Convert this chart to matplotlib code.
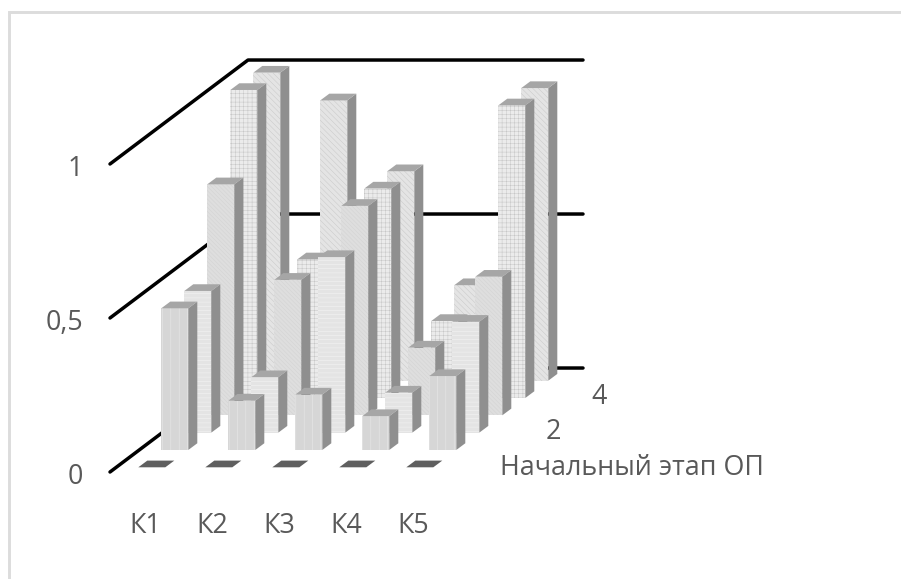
"""
3D-style column chart drawn on a flat axes with an oblique projection.
"""

import matplotlib
matplotlib.use("Agg")
import matplotlib.pyplot as plt
from matplotlib.patches import Polygon

categories = ["К1", "К2", "К3", "К4", "К5"]
series_labels = ["Начальный этап ОП", "", "2", "", "4", ""]
value_ticks = ["0", "0,5", "1"]
value_tick_pos = [0, 0.5, 1]

# one list per depth row, front to back
row0 = [0, 0, 0, 0, 0]
row1 = [0.46, 0.16, 0.18, 0.11, 0.24]
row2 = [0.46, 0.18, 0.57, 0.13, 0.36]
row3 = [0.75, 0.44, 0.68, 0.22, 0.45]
row4 = [1.00, 0.45, 0.68, 0.25, 0.95]
row5 = [1.00, 0.91, 0.68, 0.31, 0.95]
rows = [row0, row1, row2, row3, row4, row5]

hatches = [None, "||", "----", "\\\\\\\\\\\\\\\\", "++++", "\\\\\\\\\\\\"]
hatch_colors = ["#5f5f5f", "#ebebeb", "#f6f6f6", "#d2d2d2", "#c6c6c6", "#c8c8c8"]
face_colors = ["#6a6a6a", "#d6d6d6", "#e4e4e4", "#dedede", "#ebebeb", "#e4e4e4"]

# projection, in pixels of the figure
X0, Y0 = 110, 472       # front left floor corner
CAT_DX = 67             # one category along the floor
ROW_DX, ROW_DY = 23, -17.33  # one row into the depth
V_SCALE = 308           # height of value 1
BAR_W = 27
BAR_DX, BAR_DY = 9, -6.7
BAR_PAD_X, BAR_PAD_Y = 28.3, -4.7  # bar base inside its floor cell
N_ROWS = len(rows)
N_CATS = len(categories)
TEXT_COLOR = "#595959"
FONT_SIZE = 19.4


def project(cat, row):
    return X0 + CAT_DX * cat + ROW_DX * row, Y0 + ROW_DY * row


def draw_bar(ax, i, j, value):
    bx, by = project(i, j)
    bx += BAR_PAD_X
    by += BAR_PAD_Y
    top = by - V_SCALE * value
    z = 10 + (N_ROWS - j) * 10
    front = [(bx, by), (bx + BAR_W, by), (bx + BAR_W, top), (bx, top)]
    side = [(bx + BAR_W, by), (bx + BAR_W + BAR_DX, by + BAR_DY),
            (bx + BAR_W + BAR_DX, top + BAR_DY), (bx + BAR_W, top)]
    cap = [(bx, top), (bx + BAR_W, top),
           (bx + BAR_W + BAR_DX, top + BAR_DY), (bx + BAR_DX, top + BAR_DY)]
    if value > 0:
        ax.add_patch(Polygon(front, closed=True, facecolor=face_colors[j], zorder=z,
                             edgecolor=hatch_colors[j], hatch=hatches[j], linewidth=0))
        ax.add_patch(Polygon(side, closed=True, facecolor="#8f8f8f", edgecolor="none", zorder=z))
        ax.add_patch(Polygon(cap, closed=True, facecolor="#a6a6a6", edgecolor="none", zorder=z))
    else:
        ax.add_patch(Polygon(cap, closed=True, facecolor="#5f5f5f", edgecolor="none", zorder=z))


plt.rcParams["font.family"] = ["Open Sans", "DejaVu Sans"]
plt.rcParams["hatch.linewidth"] = 0.35

fig = plt.figure(figsize=(9.01, 5.79), dpi=100)
ax = fig.add_axes([0, 0, 1, 1])
ax.set_xlim(0, 901)
ax.set_ylim(579, 0)
ax.axis("off")

# chart frame
ax.plot([8.5, 8.5, 901], [579, 11.5, 11.5], color="#dcdcdc", lw=2.1, zorder=1,
        solid_joinstyle="miter")

# gridlines on the left and back walls
for v, tick in zip(value_tick_pos, value_ticks):
    xs = [X0, X0 + ROW_DX * N_ROWS, X0 + ROW_DX * N_ROWS + CAT_DX * N_CATS]
    ys = [Y0 - V_SCALE * v, Y0 + ROW_DY * N_ROWS - V_SCALE * v, Y0 + ROW_DY * N_ROWS - V_SCALE * v]
    ax.plot(xs, ys, color="black", lw=2.5, solid_capstyle="round", zorder=2)
    ax.text(83, Y0 - V_SCALE * v + 5, tick, fontsize=FONT_SIZE, color=TEXT_COLOR,
            ha="right", va="center")

for j in range(N_ROWS - 1, -1, -1):
    for i in range(N_CATS):
        draw_bar(ax, i, j, rows[j][i])

for i, cat in enumerate(categories):
    ax.text(145 + CAT_DX * i, 526, cat, fontsize=FONT_SIZE, color=TEXT_COLOR, ha="center", va="center")

ax.text(500, 468, series_labels[0], fontsize=FONT_SIZE, color=TEXT_COLOR, ha="left", va="center")
ax.text(553, 432, series_labels[2], fontsize=FONT_SIZE, color=TEXT_COLOR, ha="center", va="center")
ax.text(599, 397, series_labels[4], fontsize=FONT_SIZE, color=TEXT_COLOR, ha="center", va="center")

fig.savefig("out.png", dpi=100)
plt.close(fig)
